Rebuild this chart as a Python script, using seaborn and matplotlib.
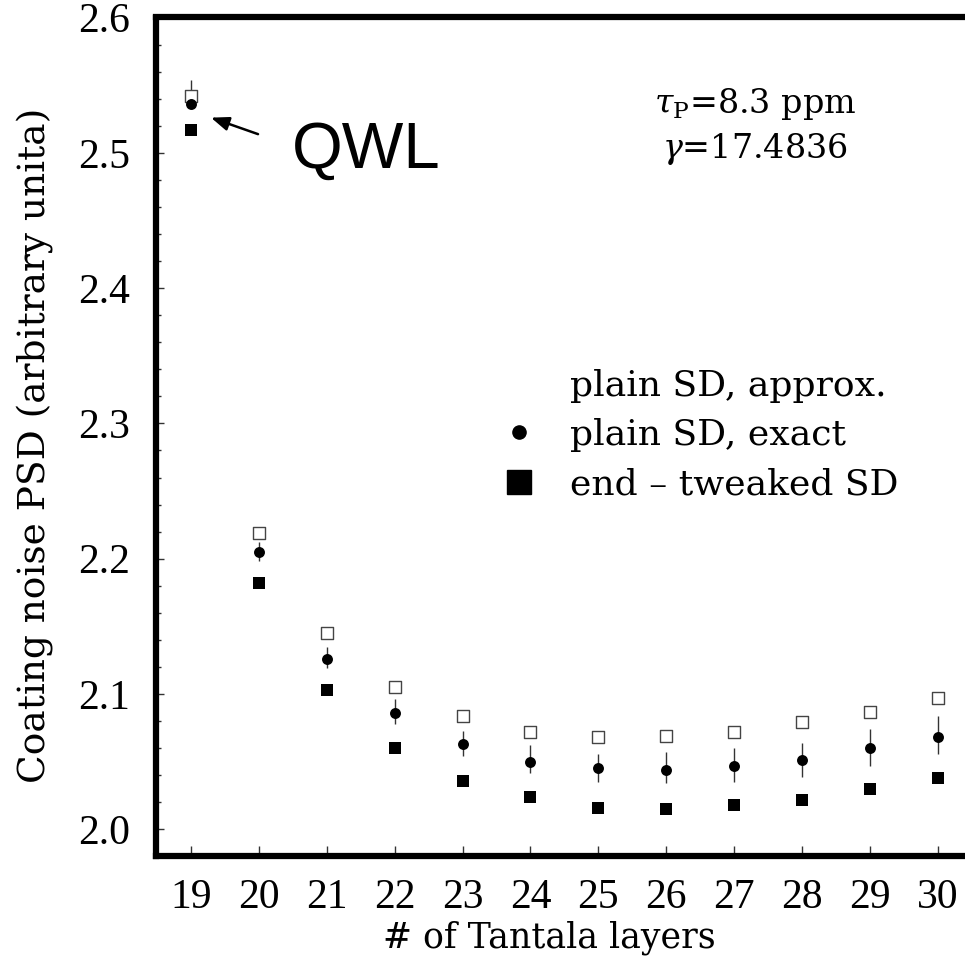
import numpy as np
import pandas as pd
import matplotlib
matplotlib.use("Agg")
import matplotlib.pyplot as plt
from matplotlib.lines import Line2D
from matplotlib.ticker import MultipleLocator, FormatStrFormatter
import seaborn as sns

# Number of tantala layers
layers = [19, 20, 21, 22, 23, 24, 25, 26, 27, 28, 29, 30]

# Coating noise PSD (arbitrary units)
psd_approx = [2.542, 2.219, 2.145, 2.105, 2.084, 2.072, 2.068, 2.069, 2.072, 2.079, 2.087, 2.097]
psd_exact = [2.536, 2.205, 2.126, 2.086, 2.063, 2.050, 2.045, 2.044, 2.047, 2.051, 2.060, 2.068]
exact_err_lo = [0.002, 0.007, 0.007, 0.008, 0.009, 0.008, 0.010, 0.010, 0.012, 0.012, 0.013, 0.012]
exact_err_hi = [0.018, 0.007, 0.009, 0.010, 0.010, 0.012, 0.011, 0.013, 0.013, 0.013, 0.014, 0.016]
psd_tweaked = [2.517, 2.182, 2.103, 2.060, 2.036, 2.024, 2.016, 2.015, 2.018, 2.022, 2.030, 2.038]

series_labels = ["plain SD, approx.", "plain SD, exact", "end \u2013 tweaked SD"]

df = pd.DataFrame({
    "layers": layers,
    "approx": psd_approx,
    "exact": psd_exact,
    "tweaked": psd_tweaked,
})

sns.set_theme(style="ticks")
plt.rcParams["font.family"] = ["Liberation Serif", "DejaVu Serif"]
plt.rcParams["mathtext.fontset"] = "custom"
plt.rcParams["mathtext.rm"] = "DejaVu Serif"
plt.rcParams["mathtext.it"] = "DejaVu Serif:italic"
for key in ("text.color", "axes.labelcolor", "xtick.color", "ytick.color"):
    plt.rcParams[key] = "black"

WIDE = ["DejaVu Serif"]

W, H = 965, 971
fig = plt.figure(figsize=(W / 100, H / 100), dpi=100)
ax = fig.add_axes([155.5 / W, (H - 856) / H, (W - 155.5) / W, (856 - 17.5) / H])

# error bars of the exact calculation
ax.errorbar(df["layers"], df["exact"], yerr=[exact_err_lo, exact_err_hi],
            fmt="none", ecolor="#333333", elinewidth=1.0, capsize=0, zorder=2)

sns.scatterplot(data=df, x="layers", y="approx", ax=ax, marker="s", s=80,
                facecolor="white", edgecolor="#444444", linewidth=1.0, zorder=3)
sns.scatterplot(data=df, x="layers", y="exact", ax=ax, marker="o", s=62,
                color="black", edgecolor="black", linewidth=0, zorder=4)
sns.scatterplot(data=df, x="layers", y="tweaked", ax=ax, marker="s", s=80,
                color="black", edgecolor="black", linewidth=0, zorder=4)

ax.set_xlim(18.477, 30.40)
ax.set_ylim(1.9803, 2.6)

ax.xaxis.set_major_locator(MultipleLocator(1))
ax.yaxis.set_major_locator(MultipleLocator(0.1))
ax.yaxis.set_minor_locator(MultipleLocator(0.02))
ax.yaxis.set_major_formatter(FormatStrFormatter("%.1f"))

ax.tick_params(axis="both", which="both", direction="in", color="#333333",
               labelsize=30, labelcolor="black")
ax.tick_params(axis="y", which="major", length=6, width=1.0, pad=18)
ax.tick_params(axis="y", which="minor", length=3.6, width=1.0)
ax.tick_params(axis="x", which="major", length=7, width=1.0, pad=16)
ax.tick_params(axis="x", which="minor", length=0)

for side in ("left", "bottom", "top"):
    ax.spines[side].set_linewidth(4.5)
    ax.spines[side].set_color("black")
ax.spines["right"].set_visible(False)

ax.set_xlabel("# of Tantala layers", fontsize=25, family=WIDE)
ax.xaxis.set_label_coords(0.487, -0.077)
ax.xaxis.label.set_va("top")
ax.set_ylabel("Coating noise PSD (arbitrary unita)", fontsize=27, family=WIDE)
ax.yaxis.set_label_coords(-0.126, 0.49)

# quarter-wave-layer marker
ax.annotate("", xy=(19.294, 2.526), xytext=(19.987, 2.5138),
            arrowprops=dict(arrowstyle="-|>,head_length=0.9,head_width=0.35",
                            color="black", lw=1.8, shrinkA=0, shrinkB=0))
ax.text(20.487, 2.489, "QWL", fontsize=47, family=["Liberation Sans"],
        color="black", ha="left", va="baseline")

ax.text(0.7406, 0.886, r"$\tau_{\rm P}$=8.3 ppm", transform=ax.transAxes,
        fontsize=24, family=WIDE, ha="center", va="baseline")
ax.text(0.7406, 0.832, r"$\gamma$=17.4836", transform=ax.transAxes,
        fontsize=24, family=WIDE, ha="center", va="baseline")

handles = [
    Line2D([], [], linestyle="none", marker="s", markersize=9,
           markerfacecolor="white", markeredgecolor="white"),
    Line2D([], [], linestyle="none", marker="o", markersize=9.5,
           markerfacecolor="black", markeredgecolor="black"),
    Line2D([], [], linestyle="none", marker="s", markersize=17,
           markerfacecolor="black", markeredgecolor="black"),
]
ax.legend(handles, series_labels, loc="upper left",
          bbox_to_anchor=(0.429, 0.581), frameon=False,
          prop={"family": WIDE, "size": 26},
          handlelength=0.9, handletextpad=0.95, labelspacing=0.42,
          borderpad=0, borderaxespad=0)

fig.savefig("out.png", dpi=100)
